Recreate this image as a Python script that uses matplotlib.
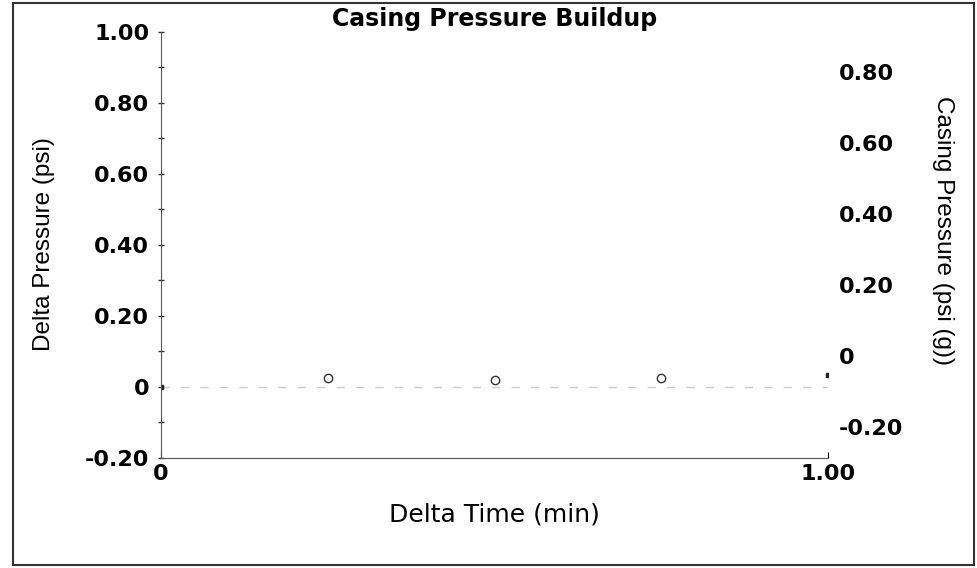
import matplotlib.pyplot as plt
from matplotlib.patches import Rectangle
from matplotlib.ticker import MultipleLocator

# data
delta_time = [0.25, 0.5, 0.75]
delta_pressure = [0.024, 0.021, 0.025]
end_time = [0.0, 1.0]
end_pressure = [0.0, 0.034]
line_time = [0.0, 1.0]
line_pressure = [0.0, 0.0]

left_ticks = [-0.2, 0, 0.2, 0.4, 0.6, 0.8, 1.0]
left_labels = ["-0.20", "0", "0.20", "0.40", "0.60", "0.80", "1.00"]
right_ticks = [-0.2, 0, 0.2, 0.4, 0.6, 0.8]
right_labels = ["-0.20", "0", "0.20", "0.40", "0.60", "0.80"]

tick_font = dict(family="DejaVu Sans", weight="bold", size=16)
label_font = dict(family="Liberation Sans", size=17.5)

fig = plt.figure(figsize=(9.77, 5.68), dpi=100)
ax = fig.add_axes([0.1648, 0.1937, 0.6827, 0.75])

# outer border
fig.patches.append(Rectangle((0.013, 0.005), 0.984, 0.99, transform=fig.transFigure,
                             fill=False, edgecolor="#333333", linewidth=1.5))

ax.plot(line_time, line_pressure, color="#cccccc", linestyle="--", linewidth=1, dashes=(6, 8))
ax.plot(delta_time, delta_pressure, "o", markerfacecolor="white", markeredgecolor="#333333",
        markersize=6, markeredgewidth=1)
ax.plot(end_time, end_pressure, "s", color="#222222", markersize=3)

ax.set_xlim(0, 1.0)
ax.set_ylim(-0.2, 1.0)
ax.set_xticks([0, 1.0])
ax.set_xticklabels(["0", "1.00"], **tick_font)
ax.set_yticks(left_ticks)
ax.set_yticklabels(left_labels, **tick_font)
ax.yaxis.set_minor_locator(MultipleLocator(0.1))
ax.tick_params(axis="y", which="both", direction="inout", length=5, width=1, pad=6, colors="#333333")
ax.tick_params(axis="y", labelcolor="black")
ax.tick_params(axis="x", direction="in", length=4, pad=4, labelcolor="black")
for s in ["top", "right"]:
    ax.spines[s].set_visible(False)
ax.spines["left"].set_color("#555555")
ax.spines["bottom"].set_color("#555555")

ax.set_title("Casing Pressure Buildup", family="DejaVu Sans", weight="bold", size=17, pad=4)
ax.set_xlabel("Delta Time (min)", family="DejaVu Sans", size=18, labelpad=14)

ax2 = ax.twinx()
ax2.set_ylim(-0.286, 0.914)
ax2.set_yticks(right_ticks)
ax2.set_yticklabels(right_labels, **tick_font)
ax2.tick_params(axis="y", length=0, pad=8)
for s in ax2.spines.values():
    s.set_visible(False)

# axis titles placed at the reference positions
fig.text(44 / 977, 1 - 244 / 568, "Delta Pressure (psi)", rotation=90,
         ha="center", va="center", **label_font)
fig.text(943 / 977, 1 - 230 / 568, "Casing Pressure (psi (g))", rotation=270,
         ha="center", va="center", **label_font)

fig.savefig("out.png", dpi=100)
